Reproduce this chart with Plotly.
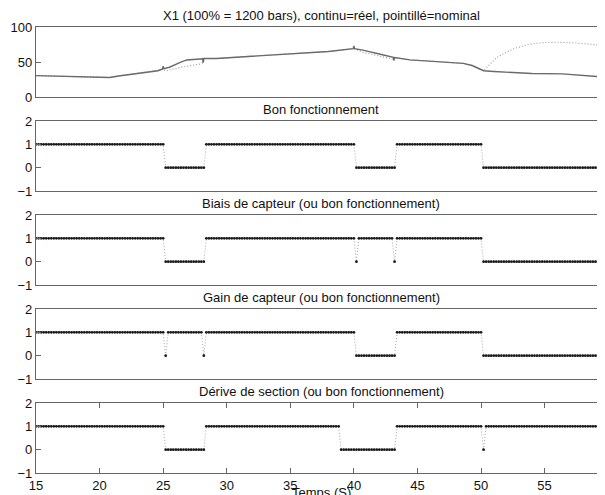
import numpy as np
import plotly.graph_objects as go

# ---------------- data ----------------
# top panel: X1 real (solid) and nominal (dotted), % of 1200 bars
t_real = [15, 16, 17.5, 19, 20, 20.8, 21.5, 22.6, 23.9, 24.6, 24.95, 25.0, 25.05, 25.5,
          26.3, 26.85, 27.9, 28.1, 28.15, 28.2, 29.2, 32, 35, 38, 39.95, 40.0, 40.05,
          40.7, 42.0, 43.1, 43.15, 43.2, 44.4, 46, 48.6, 49.3, 50.2, 51, 52.5, 54,
          56.4, 58, 60]
v_real = [30.5, 30, 29, 28, 27.6, 27.8, 30, 33, 35.5, 37.5, 40, 44, 40.5, 42.5,
          49, 52.9, 54.3, 54.6, 49, 55, 55, 58.5, 62, 65, 69, 73, 69,
          67, 61.5, 56.7, 52, 56.5, 53, 51.4, 48, 45, 37.5, 36.5, 34.5, 33.5,
          33, 30.5, 28]

t_nom = [15, 16, 17.5, 19, 20, 20.8, 21.5, 22.6, 23.9, 24.6, 25.0, 25.2, 26.5, 27.9,
         28.15, 28.25, 29.2, 32, 35, 38, 40.0, 40.7, 42.0, 43.15, 43.25, 44.4, 46,
         48.6, 49.3, 50.2, 50.6, 51.2, 52, 52.5, 53.3, 54, 55, 56, 57.2, 58.2, 59.1, 60]
v_nom = [30.5, 30, 29, 28, 27.6, 27.8, 30, 33, 35.5, 37.5, 39.5, 37, 43, 47,
         49, 55, 55, 58.5, 62, 65, 69, 63.8, 58.6, 53.5, 56.5, 53, 51.4,
         48, 45, 37.5, 45, 56, 64, 68.5, 73, 76, 77.8, 78.2, 77.6, 76.3, 74.5, 72.5]

# state panels: sampled every 0.2 s from t = 15, given as (value, number of samples)
t_start = 15.0
sample_period = 0.2
bon_runs = [(1, 51), (0, 16), (1, 59), (0, 16), (1, 34), (0, 50)]
biais_runs = [(1, 51), (0, 16), (1, 59), (0, 1), (1, 14), (0, 1), (1, 34), (0, 50)]
gain_runs = [(1, 51), (0, 1), (1, 14), (0, 1), (1, 59), (0, 16), (1, 34), (0, 50)]
derive_runs = [(1, 51), (0, 16), (1, 53), (0, 22), (1, 34), (0, 1), (1, 49)]

titles = ["X1 (100% = 1200 bars), continu=réel, pointillé=nominal",
          "Bon fonctionnement",
          "Biais de capteur (ou bon fonctionnement)",
          "Gain de capteur (ou bon fonctionnement)",
          "Dérive de section (ou bon fonctionnement)"]
x_ticks = [15, 20, 25, 30, 35, 40, 45, 50, 55, 60]
x_label = "Temps (S)"


def expand(runs):
    vals = []
    for v, n in runs:
        vals += [v] * n
    t = [round(t_start + i * sample_period, 3) for i in range(len(vals))]
    return t, vals


# ---------------- figure ----------------
# the page body has an 8 px margin, so the figure is drawn 8 px in from the
# window's top-left corner; size and positions are set to compensate.
OFF = 8
W, H = 605 - OFF, 495 - OFF
LEFT = 36 - OFF
TOP0, PH, STEP = 27 - OFF, 70, 94
FONT = "Liberation Sans, Arial, sans-serif"
TXT = "#111111"
AX = "#666666"
CENTER_X = (321 - OFF) / W

fig = go.Figure()

fig.add_trace(go.Scatter(x=t_nom, y=v_nom, mode="lines",
                         line=dict(color="#9a9a9a", width=1.1, dash="1px,2px"),
                         xaxis="x", yaxis="y", showlegend=False))
fig.add_trace(go.Scatter(x=t_real, y=v_real, mode="lines",
                         line=dict(color="#6a6a6a", width=1.4),
                         xaxis="x", yaxis="y", showlegend=False))

for k, runs in enumerate([bon_runs, biais_runs, gain_runs, derive_runs], start=2):
    t, v = expand(runs)
    fig.add_trace(go.Scatter(x=t, y=v, mode="lines+markers",
                             line=dict(color="#a8a8a8", width=1, dash="1px,2px"),
                             marker=dict(color="#1a1a1a", size=2.8),
                             xaxis=f"x{k}", yaxis=f"y{k}", showlegend=False))

layout = dict(width=W, height=H, autosize=False,
              margin=dict(l=0, r=0, t=0, b=0),
              paper_bgcolor="white", plot_bgcolor="white",
              font=dict(family=FONT, size=13, color=TXT),
              annotations=[])

for i in range(5):
    k = "" if i == 0 else str(i + 1)
    top = TOP0 + STEP * i
    bot = top + PH
    last = (i == 4)
    layout["xaxis" + k] = dict(
        domain=[LEFT / W, 1.0], range=[15, 59.75], anchor="y" + k,
        automargin=False,
        showgrid=False, zeroline=False, showline=True, linecolor=AX, linewidth=1.2,
        mirror="ticks" if last else True,
        ticks="inside" if last else "", ticklen=5, tickcolor=AX, tickwidth=1,
        tickvals=x_ticks, showticklabels=last,
        tickfont=dict(family=FONT, size=13, color=TXT),
    )
    if i == 0:
        yt = [0, 50, 100]
        yr = [0, 100]
    else:
        yt = [-1, 0, 1, 2]
        yr = [-1, 2]
    layout["yaxis" + k] = dict(
        domain=[1 - bot / H, 1 - top / H], range=yr, anchor="x" + k,
        automargin=False,
        showgrid=False, zeroline=False, showline=True, linecolor=AX, linewidth=1.2,
        mirror="ticks", ticks="inside", ticklen=5, tickcolor=AX, tickwidth=1,
        tickvals=yt, tickfont=dict(family=FONT, size=13, color=TXT),
    )
    layout["annotations"].append(dict(
        text=titles[i], xref="paper", yref="paper", x=CENTER_X, y=1 - (top - 12) / H,
        xanchor="center", yanchor="middle", showarrow=False,
        font=dict(family=FONT, size=13, color=TXT)))

layout["annotations"].append(dict(
    text=x_label, xref="paper", yref="paper", x=CENTER_X, y=1 - (492 - OFF) / H,
    xanchor="center", yanchor="middle", showarrow=False,
    font=dict(family=FONT, size=13, color=TXT)))

fig.update_layout(**layout)
fig.write_html("out.html")
